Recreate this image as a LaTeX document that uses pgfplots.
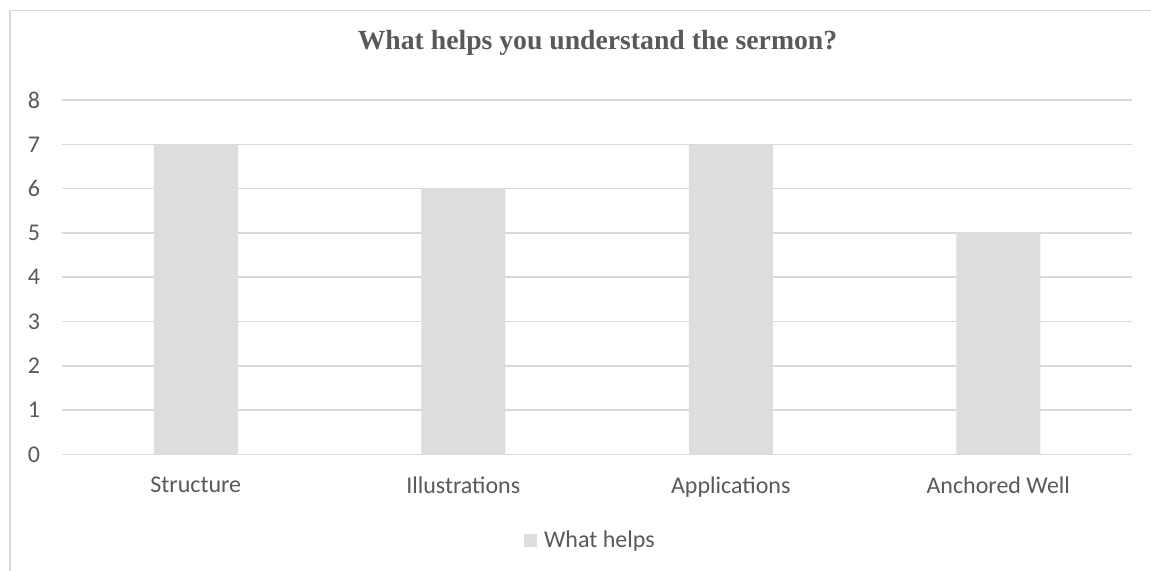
\documentclass[border=0pt]{standalone}
\usepackage{pgfplots}
\pgfplotsset{compat=1.18}
\usepackage{fontspec}
\setmainfont{Carlito}
\newfontfamily\titlefont{Liberation Serif}
\definecolor{txt}{HTML}{595959}
\definecolor{gridc}{HTML}{D9D9D9}
\definecolor{barc}{HTML}{DDDDDD}
\begin{document}
\begin{tikzpicture}
\useasboundingbox (0pt,0pt) rectangle (575.5pt,285.5pt);
\draw[gridc, line width=0.75pt] (5pt,0pt) -- (5pt,280.25pt) -- (575.5pt,280.25pt);
\node[txt, font=\titlefont\bfseries\fontsize{13.85}{16}\selectfont, anchor=center] at (298.75pt,264pt) {What helps you understand the sermon?};
\begin{axis}[
  at={(31pt,58.25pt)}, anchor=south west,
  scale only axis, width=535pt, height=177.25pt,
  xmin=-0.5, xmax=3.5, ymin=0, ymax=8,
  xtick=data, xticklabels={Structure,Illustrations,Applications,Anchored Well},
  ytick={0,1,...,8},
  axis line style={draw=none},
  major tick length=0pt,
  ymajorgrids, grid style={gridc, line width=0.75pt},
  tick label style={txt, font=\fontsize{12}{14}\selectfont},
  /pgf/number format/assume math mode=true,
  yticklabel style={xshift=-7.5pt},
  xticklabel style={yshift=-7.6pt},
  legend style={at={(0.4945,-0.244)}, anchor=center, draw=none, fill=none,
    font=\fontsize{12}{14}\selectfont, text=txt, legend columns=-1},
  legend image code/.code={\fill[barc] (0pt,-3.25pt) rectangle (6.5pt,3.25pt); \path (8.3pt,0pt);},
]
\addplot[ybar, bar width=42pt, fill=barc, draw=none] coordinates {(0,7) (1,6) (2,7) (3,5)};
\addlegendentry{What helps}
\end{axis}
\end{tikzpicture}
\end{document}
